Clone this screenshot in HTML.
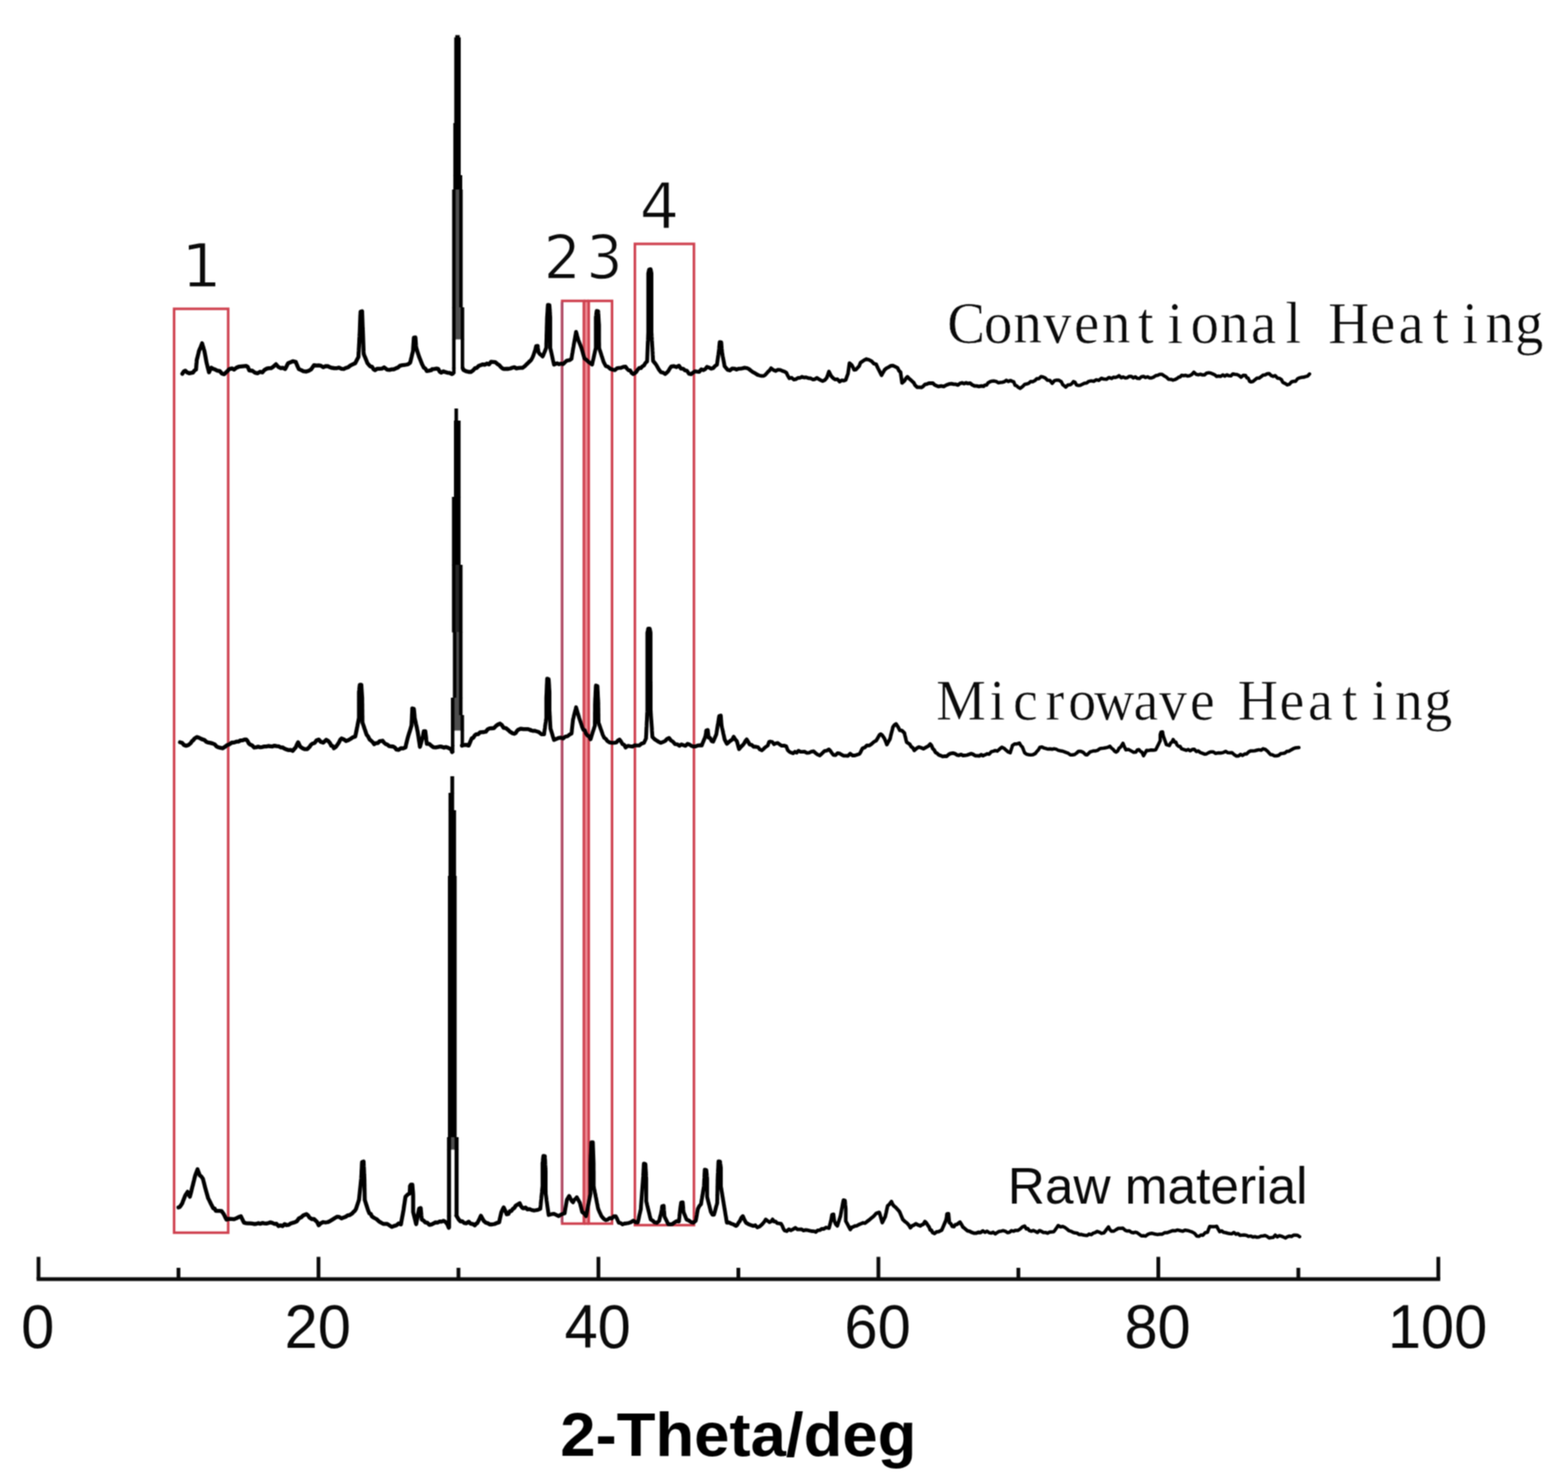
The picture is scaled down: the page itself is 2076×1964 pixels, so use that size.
<!DOCTYPE html>
<html lang="en">
<head>
<meta charset="utf-8">
<title>XRD patterns</title>
<style>
html,body{margin:0;padding:0;background:#fff;}
body{width:2076px;height:1964px;overflow:hidden;}
svg{display:block;}
.curve{fill:none;stroke:#000;stroke-linejoin:round;stroke-linecap:round;}
.box{fill:none;stroke:#cf4250;stroke-width:3.4;}
.axis line{stroke:#0a0a0a;stroke-width:5.0;stroke-linecap:butt;}
.ticklab text{font-family:"Liberation Sans",sans-serif;font-size:81px;fill:#0a0a0a;}
.serif{font-family:"Liberation Serif",serif;fill:#0a0a0a;stroke:#fff;stroke-width:0.6;}
.num{font-family:"DejaVu Sans Condensed","DejaVu Sans",sans-serif;fill:#0a0a0a;stroke:#fff;stroke-width:1.3;}
</style>
</head>
<body>
<svg width="2076" height="1964" viewBox="0 0 2076 1964">
<defs>
<filter id="soft" x="0" y="0" width="2076" height="1964" filterUnits="userSpaceOnUse" color-interpolation-filters="sRGB"><feConvolveMatrix order="3" kernelMatrix="1 2 1 2 4 2 1 2 1" divisor="16" edgeMode="duplicate" preserveAlpha="false"/></filter>
</defs>
<rect width="2076" height="1964" fill="#ffffff"/>
<g filter="url(#soft)">
<rect x="773.2" y="400" width="6.2" height="1219" fill="#ee8d95"/>
<g class="box">
<rect x="230.5" y="409" width="71.6" height="1223.5"/>
<rect x="744.3" y="398.5" width="28.7" height="1222"/>
<rect x="779.5" y="398.5" width="30.8" height="1222"/>
<rect x="840.6" y="323" width="78.2" height="1299.5"/>
<line x1="744.3" y1="400" x2="744.3" y2="1619" stroke="#b04c66"/>
<line x1="773" y1="398.5" x2="779.5" y2="398.5"/>
<line x1="773" y1="1620.5" x2="779.5" y2="1620.5"/>
</g>
<g id="curves">
<path class="curve" stroke-width="5.3" d="M241.4,495.0 L243.4,491.9 L245.4,490.9 L247.9,493.3 L250.4,494.3 L255.5,493.3 L257.5,490.7 L259.5,489.4 L259.8,485.9 L260.0,482.9 L260.3,479.8 L260.5,476.8 L261.3,473.8 L262.0,470.8 L262.8,467.7 L263.5,464.7 L264.5,462.2 L265.6,459.7 L266.6,457.2 L267.6,454.6 L268.3,457.2 L269.1,459.7 L269.8,462.2 L270.6,464.7 L271.1,467.4 L271.6,470.1 L272.1,472.8 L272.6,475.5 L273.1,478.2 L273.6,480.9 L274.4,483.9 L275.1,486.9 L275.9,489.9 L276.7,493.0 L278.2,489.9 L279.7,486.9 L282.2,488.5 L284.7,489.3 L287.7,490.8 L290.8,491.3 L293.8,494.8 L296.8,495.6 L300.9,491.7 L302.9,489.4 L304.9,488.3 L307.4,488.0 L309.9,489.5 L313.0,487.0 L316.0,485.7 L321.0,485.1 L326.1,484.6 L328.1,486.0 L330.1,490.6 L334.1,491.0 L337.7,493.7 L341.2,494.4 L344.2,492.4 L347.3,493.2 L350.3,489.8 L353.3,488.2 L356.0,487.6 L358.7,487.7 L361.4,486.0 L365.4,482.4 L368.4,485.9 L371.5,487.5 L374.5,487.1 L377.5,488.8 L378.9,486.2 L380.2,483.5 L381.5,480.9 L384.6,479.8 L387.6,478.4 L391.6,479.3 L393.0,482.9 L394.3,485.9 L395.7,488.9 L398.7,490.1 L401.7,491.6 L405.7,492.1 L408.8,491.1 L411.8,489.3 L413.8,486.4 L415.8,483.6 L418.9,484.2 L421.9,483.9 L424.9,484.4 L427.9,486.4 L431.0,485.0 L434.0,484.9 L436.7,486.3 L439.4,487.2 L442.1,487.5 L445.4,487.7 L448.8,486.8 L452.1,488.4 L455.2,488.6 L458.2,487.2 L461.2,486.2 L464.2,483.9 L467.3,482.4 L470.3,481.0 L471.7,478.2 L473.1,475.5 L474.6,472.8 L474.7,470.1 L474.8,467.4 L475.0,464.7 L475.1,462.0 L475.3,459.3 L475.4,456.7 L475.6,454.0 L475.7,451.3 L475.8,448.6 L476.0,445.9 L476.1,443.2 L476.3,440.5 L476.4,437.7 L476.5,435.0 L476.6,432.2 L476.7,429.4 L476.8,426.6 L476.9,423.9 L477.0,421.1 L477.1,418.3 L477.3,415.5 L477.4,412.8 L479.4,412.2 L479.5,415.5 L479.6,418.3 L479.7,421.1 L479.8,423.9 L479.9,426.6 L480.0,429.4 L480.1,432.2 L480.2,435.0 L480.4,437.7 L480.5,440.5 L480.6,443.3 L480.7,446.2 L480.8,449.0 L480.9,451.8 L481.0,454.6 L481.1,457.5 L481.2,460.3 L481.3,463.1 L481.4,465.9 L481.6,468.8 L482.5,471.2 L483.5,473.6 L484.5,476.0 L485.5,478.4 L486.4,480.9 L488.5,483.4 L490.5,485.4 L492.5,485.6 L494.5,489.0 L496.5,490.2 L499.5,488.3 L502.6,488.3 L505.6,488.2 L508.6,486.5 L512.7,489.6 L515.7,489.8 L518.7,489.2 L521.4,489.0 L524.1,487.8 L526.8,486.7 L529.5,484.4 L532.2,483.7 L534.8,483.4 L537.5,483.0 L540.2,482.5 L542.9,480.4 L543.6,478.2 L544.2,475.5 L544.9,472.8 L545.5,470.1 L546.2,467.4 L546.9,464.7 L547.0,461.8 L547.2,458.8 L547.4,455.9 L547.6,453.0 L547.8,450.0 L548.0,447.1 L550.0,446.9 L550.2,449.8 L550.4,452.5 L550.6,455.2 L550.8,458.0 L551.1,460.7 L552.1,463.7 L553.0,466.7 L554.0,469.8 L555.0,472.8 L556.0,475.3 L557.0,477.8 L558.0,480.4 L559.1,482.9 L561.1,486.9 L563.1,488.0 L565.1,491.3 L568.1,490.8 L571.2,490.2 L572.1,488.9 L575.1,488.6 L578.2,488.2 L580.2,488.6 L582.2,492.2 L584.2,493.5 L586.9,491.9 L589.6,492.7 L592.3,493.6 L595.3,493.8 L598.3,495.4 L599.6,494.7"/>
<path class="curve" stroke-width="5.3" d="M612.6,487.5 L613.5,489.9 L617.0,491.7 L620.5,492.5 L623.2,492.7 L625.9,490.9 L628.6,487.9 L631.3,487.1 L634.0,484.4 L636.7,483.5 L639.3,482.6 L642.0,483.1 L644.7,481.4 L647.4,482.6 L650.1,479.2 L652.8,479.4 L655.8,479.6 L658.8,482.3 L660.9,483.5 L662.9,485.8 L664.9,487.7 L667.6,488.7 L670.3,488.3 L673.0,488.5 L675.6,488.0 L678.3,487.0 L681.0,486.3 L683.7,487.9 L686.4,487.4 L689.1,487.2 L692.1,487.0 L695.1,484.7 L697.2,482.5 L699.2,480.6 L701.2,478.7"/>
<path class="curve" stroke-width="5.1" d="M701.2,478.7 L703.2,476.8 L705.2,473.1 L706.1,471.0 L707.0,468.3 L707.9,465.5 L708.8,462.7 L709.9,458.2 L711.9,458.1 L712.2,461.0 L712.6,463.9 L713.0,466.7 L714.8,468.9 L716.6,470.3 L718.3,472.1 L719.3,470.4 L720.3,467.9 L721.3,465.5 L722.2,463.1 L723.2,460.7 L723.3,458.0 L723.3,455.3 L723.4,452.6 L723.5,449.9 L723.6,447.2 L723.6,444.5 L723.7,441.9 L723.8,439.2 L723.9,436.5 L723.9,433.8 L724.0,431.1 L724.1,428.4 L724.2,425.7 L724.2,423.0 L724.3,420.3 L724.5,417.6 L724.7,414.8 L724.9,412.0 L725.0,409.2 L725.2,406.5 L725.4,403.7 L727.4,404.0 L727.6,406.5 L727.8,409.2 L728.0,412.0 L728.1,414.8 L728.3,417.6 L728.5,420.3 L728.5,423.0 L728.5,425.7 L728.5,428.4 L728.5,431.1 L728.5,433.8 L728.5,436.5 L728.5,439.2 L728.5,441.9 L728.5,444.5 L728.5,447.2 L728.5,449.9 L728.5,452.6 L728.5,455.3 L728.5,458.0 L728.5,460.7 L729.1,463.5 L729.8,466.2 L730.4,469.0 L731.0,471.8 L731.6,474.6 L732.2,477.3 L732.9,480.1 L733.5,482.9 L737.5,481.1 L740.2,482.4 L742.9,481.5 L745.6,482.2 L747.6,480.2 L749.6,478.2 L751.6,477.3 L754.2,476.9 L756.7,475.1 L757.1,472.2 L757.5,469.6 L758.0,467.0 L758.4,464.4 L758.8,461.8 L759.3,459.2 L759.7,456.7 L760.2,453.8 L760.7,450.9 L761.2,448.1 L761.7,445.2 L762.2,442.4 L762.7,439.5 L763.5,442.3 L764.2,445.1 L765.0,447.8 L765.7,450.6 L766.8,453.1 L767.8,455.6 L768.8,458.2 L769.8,460.7 L770.6,463.5 L771.4,466.3 L772.2,469.2 L773.0,472.0 L773.8,474.8 L776.3,476.4 L778.9,479.1 L781.4,480.8 L783.9,482.9 L784.5,480.1 L785.1,477.3 L785.8,474.6 L786.4,471.8 L787.0,469.0 L787.6,466.2 L788.2,463.5 L788.9,460.7 L788.9,458.0 L788.9,455.3 L788.9,452.6 L788.9,449.9 L788.9,447.2 L788.9,444.5 L788.9,441.9 L788.9,439.2 L788.9,436.5 L788.9,433.8 L788.9,431.1 L788.9,428.4 L788.9,425.7 L788.9,423.0 L788.9,420.3 L789.3,417.5 L789.6,414.6 L790.0,411.8 L792.0,412.3 L792.1,414.4 L792.3,417.1 L792.4,419.8 L792.6,422.4 L792.7,425.1 L792.9,427.8 L793.1,430.4 L793.1,433.2 L793.1,435.9 L793.1,438.7 L793.1,441.4 L793.1,444.2 L793.1,446.9 L793.1,449.7 L793.1,452.4 L793.2,455.2 L793.2,457.9 L793.2,460.7 L794.0,463.3 L794.9,465.9 L795.7,468.5 L796.5,471.1 L797.4,473.7 L798.2,476.2 L799.0,478.8 L800.5,481.9 L802.1,484.9 L805.1,485.8 L808.1,488.5 L811.1,489.5 L814.2,490.2 L816.8,487.8 L819.5,487.3 L822.2,487.2 L825.3,485.9 L828.3,485.6 L830.3,488.5 L832.3,490.4 L834.3,490.5 L836.3,493.9 L838.4,495.4 L840.4,494.2 L842.4,492.5 L844.4,489.4 L846.4,487.3 L848.5,487.5 L850.5,485.2 L852.5,484.1 L854.5,480.8 L856.7,478.6 L856.9,475.3 L857.0,472.6 L857.1,469.9 L857.2,467.1 L857.3,464.4 L857.4,461.7 L857.5,459.0 L857.6,456.3 L857.7,453.6 L857.9,450.9 L858.0,448.1 L858.1,445.4 L858.2,442.7 L858.3,440.0 L858.3,437.4 L858.3,434.8 L858.3,432.2 L858.3,429.6 L858.3,427.0 L858.3,424.4 L858.3,421.8 L858.3,419.2 L858.3,416.6 L858.3,414.0 L858.3,411.4 L858.3,408.8 L858.3,406.2 L858.3,403.6 L858.3,401.0 L858.3,398.4 L858.3,395.8 L858.3,393.2 L858.3,390.6 L858.3,388.0 L858.3,385.4 L858.3,382.8 L858.3,380.2 L858.3,377.6 L858.3,375.0 L858.3,372.4 L858.3,369.8 L858.3,367.2 L858.3,364.6 L858.3,362.0 L859.4,357.0 L861.4,356.5 L862.5,362.0 L862.5,364.6 L862.5,367.2 L862.5,369.8 L862.5,372.4 L862.5,375.0 L862.5,377.6 L862.5,380.2 L862.5,382.8 L862.5,385.4 L862.5,388.0 L862.5,390.6 L862.5,393.2 L862.5,395.8 L862.5,398.4 L862.5,401.0 L862.5,403.6 L862.5,406.2 L862.5,408.8 L862.5,411.4 L862.5,414.0 L862.5,416.6 L862.5,419.2 L862.5,421.8 L862.5,424.4 L862.5,427.0 L862.5,429.6 L862.5,432.2 L862.5,434.8 L862.5,437.4 L862.5,440.0 L862.7,442.7 L862.8,445.4 L863.0,448.1 L863.1,450.9 L863.3,453.6 L863.4,456.3 L863.6,459.0 L863.8,461.7 L863.9,464.4 L864.1,467.1 L864.2,469.9 L864.4,472.6 L864.5,475.3 L864.7,478.0 L867.6,481.5 L869.3,483.9 L871.0,486.9 L872.7,489.9 L875.3,493.1 L878.0,493.5 L880.7,495.3 L882.7,493.6 L884.8,491.5 L886.8,488.0 L888.8,485.2 L892.2,484.9 L895.5,486.2 L898.9,484.3 L901.6,488.2 L904.3,488.2 L906.9,490.5 L909.6,491.1 L912.3,495.1 L915.0,495.6 L917.7,493.4 L920.4,491.7 L923.1,492.2 L925.8,492.4 L928.5,489.1 L931.2,490.1 L933.6,489.0 L936.1,485.8 L938.8,486.8 L941.5,488.2 L944.2,487.5 L946.7,484.7 L949.2,483.1 L949.6,480.3 L950.0,477.7 L950.3,475.1 L950.7,472.5 L951.1,469.9 L951.4,467.3 L951.8,464.7 L952.1,461.8 L952.3,458.9 L952.6,456.0 L952.9,453.1 L954.9,453.2 L955.1,455.8 L955.3,458.6 L955.5,461.3 L955.8,464.0 L956.0,466.7 L956.5,469.3 L956.9,471.9 L957.4,474.5 L957.9,477.1 L958.4,479.7 L958.9,482.3 L959.3,484.9 L961.4,487.5 L963.4,489.7 L966.4,490.6 L969.4,488.0 L972.4,488.2 L975.1,489.4 L977.8,488.3 L980.5,488.3 L983.2,487.8 L985.9,487.0 L988.6,487.4 L991.3,488.5 L994.0,490.8 L996.7,492.8 L999.7,494.3 L1002.7,496.2"/>
<path class="curve" stroke-width="4.8" d="M1002.7,496.2 L1005.4,497.2 L1008.1,497.9 L1010.8,497.8 L1012.8,496.8 L1014.8,494.8 L1016.8,492.4 L1018.8,490.6 L1020.9,487.6 L1023.9,490.0 L1026.9,491.3 L1029.9,489.7 L1033.0,489.8 L1035.6,491.1 L1038.3,492.0 L1041.0,493.3 L1042.4,496.3 L1043.7,498.7 L1045.1,501.0 L1048.1,500.2 L1051.1,502.8 L1053.8,502.1 L1056.5,500.5 L1059.2,500.3 L1061.9,499.0 L1064.6,500.0 L1067.3,499.7 L1070.3,500.8 L1073.3,501.0 L1076.0,502.5 L1078.7,502.3 L1081.4,500.4 L1084.1,502.1 L1086.8,503.6 L1089.4,504.7 L1092.0,503.4 L1094.5,500.5 L1095.5,498.0 L1096.5,495.0 L1097.5,492.0 L1099.0,495.0 L1100.5,498.0 L1103.1,500.8 L1105.6,502.6 L1108.6,502.2 L1111.6,505.4 L1114.3,503.7 L1117.0,504.1 L1119.7,503.3 L1120.7,500.4 L1121.7,497.7 L1122.7,495.0 L1123.1,492.2 L1123.5,489.3 L1123.9,486.5 L1124.3,483.7 L1124.7,480.9 L1127.8,483.6 L1129.3,486.4 L1130.8,489.9 L1133.3,489.3 L1135.8,486.7 L1137.5,484.9 L1139.2,480.5 L1140.9,479.2 L1143.9,477.1 L1146.9,475.5 L1150.5,476.5 L1154.0,478.4 L1157.0,481.7 L1160.0,482.3 L1161.4,485.6 L1162.7,488.3 L1164.1,490.9 L1165.6,494.0 L1167.1,497.0 L1168.4,494.6 L1169.8,492.3 L1171.1,489.9 L1173.7,487.6 L1176.2,486.4 L1179.2,484.4 L1182.2,484.2 L1185.3,485.7 L1188.3,487.2 L1190.3,491.1 L1192.3,492.9 L1192.7,495.8 L1193.1,498.6 L1193.5,501.4 L1193.9,504.3 L1194.3,507.1 L1197.4,504.4 L1199.4,501.1 L1201.4,499.0 L1203.9,501.7 L1206.4,503.7 L1208.1,505.4 L1209.8,506.9 L1211.5,510.2 L1214.5,512.9 L1217.5,512.9 L1219.9,513.1 L1222.2,511.7 L1224.6,509.2 L1227.3,508.7 L1230.0,507.3 L1232.7,507.5 L1235.2,507.5 L1237.7,509.9 L1240.2,511.0 L1242.7,511.9 L1246.1,511.1 L1249.5,511.9 L1252.8,510.0 L1256.2,508.7 L1259.6,508.1 L1262.9,508.8 L1265.6,508.9 L1268.3,509.9 L1271.0,507.8 L1273.7,507.0 L1276.4,508.1 L1279.1,506.9 L1281.7,507.9 L1284.4,507.4 L1287.1,509.6 L1290.1,511.0 L1293.1,511.2 L1296.1,511.8 L1299.2,511.1 L1302.2,511.4"/>
<path class="curve" stroke-width="4.5" d="M1302.2,511.4 L1304.2,509.9 L1306.2,510.0 L1308.2,507.0 L1310.9,505.5 L1313.6,504.7 L1316.3,504.6 L1319.0,505.2 L1321.7,507.0 L1324.4,506.6 L1327.1,506.2 L1329.8,505.5 L1332.4,503.6 L1335.1,505.2 L1337.8,503.9 L1340.5,505.1 L1342.2,505.7 L1343.9,510.3 L1345.6,510.6 L1348.1,512.9 L1350.6,514.4 L1352.6,512.9 L1354.6,511.3 L1356.7,508.9 L1359.3,508.6 L1362.0,507.7 L1364.7,505.2 L1367.4,505.5 L1370.1,504.1 L1372.8,501.4 L1375.5,501.5 L1378.2,498.8 L1380.9,499.3 L1383.9,500.6 L1386.9,503.6 L1389.9,503.7 L1393.0,507.7 L1396.0,504.2 L1399.0,503.4 L1402.0,503.6 L1405.1,505.5 L1407.1,509.5 L1409.1,511.1 L1411.1,512.7 L1414.1,509.7 L1417.2,509.4 L1419.2,508.0 L1421.2,505.4 L1423.2,506.1 L1425.2,509.8 L1427.3,510.4 L1430.3,510.2 L1433.3,508.8 L1436.0,507.4 L1438.7,507.2 L1441.4,505.1 L1444.7,504.4 L1448.1,505.0 L1451.5,502.9 L1454.8,503.8 L1458.2,501.0 L1461.5,502.1 L1464.9,502.3 L1468.3,499.9 L1471.6,501.3 L1474.2,499.6 L1476.7,499.9 L1479.2,499.1 L1481.7,497.5 L1484.4,500.3 L1487.1,499.2 L1489.8,500.5 L1492.5,500.2 L1495.2,498.4 L1497.9,498.4 L1500.5,500.5 L1503.2,499.1 L1505.9,501.1 L1508.6,501.2 L1511.3,498.9 L1514.0,498.5 L1516.7,500.0 L1519.4,499.0 L1522.1,500.4 L1524.7,500.5 L1527.4,499.4 L1530.1,497.5 L1532.8,497.0 L1535.5,495.7 L1538.2,495.7 L1541.2,497.7 L1544.2,499.4 L1547.3,502.3 L1550.3,502.4 L1553.0,503.4 L1555.7,502.6 L1558.4,501.3 L1560.4,499.6 L1562.4,499.3 L1564.4,497.0 L1567.1,497.5 L1569.8,497.0 L1572.5,498.1 L1575.2,497.5 L1577.9,496.1 L1580.6,493.0 L1583.6,495.7 L1586.6,496.4 L1589.3,495.6 L1592.0,496.5 L1594.7,496.5 L1597.4,494.2 L1600.1,493.6 L1602.7,494.0 L1605.4,495.1 L1608.1,496.3 L1610.8,498.5 L1613.5,498.1 L1616.2,498.5 L1618.9,496.5 L1621.6,498.2 L1624.3,496.4 L1626.9,497.6 L1629.6,497.8 L1632.3,495.2 L1635.0,495.7 L1637.7,496.0 L1640.4,497.2 L1643.1,499.6 L1646.1,497.0 L1649.1,497.3 L1650.9,500.5 L1652.6,500.8 L1654.4,504.9 L1656.1,505.8 L1658.8,505.2 L1661.5,503.0 L1664.2,500.8 L1666.9,500.8 L1669.6,498.9 L1672.3,496.7 L1675.0,496.5 L1677.7,495.0 L1680.3,494.7 L1683.0,497.3 L1685.7,498.4 L1688.4,497.5 L1691.4,500.8 L1694.5,501.3 L1696.5,502.6 L1698.5,506.5 L1701.5,507.9 L1704.5,509.7 L1707.2,508.9 L1709.9,505.7 L1712.6,505.0 L1715.3,505.0 L1718.0,501.5 L1720.7,500.4 L1723.4,499.8 L1726.1,499.6 L1728.8,498.6 L1731.3,498.1 L1733.8,495.3"/>
<path class="curve" stroke-width="5.3" d="M238.3,983.0 L241.0,983.7 L243.7,986.8 L246.4,987.6 L249.4,986.7 L252.4,984.2 L254.1,981.7 L255.8,980.4 L257.5,978.1 L260.5,976.1 L263.5,977.0 L267.1,978.9 L270.6,980.0 L273.3,982.5 L276.0,983.4 L278.7,983.9 L281.4,984.6 L284.0,985.6 L286.7,988.6 L289.4,989.7 L292.1,990.4 L294.8,991.0 L297.8,989.1 L300.9,986.7 L303.9,985.7 L306.9,983.5 L309.9,983.4 L313.0,982.2 L315.6,982.2 L318.3,980.6 L321.0,980.4 L323.6,979.5 L326.1,979.3 L327.8,981.4 L329.4,984.5 L331.1,986.0 L333.8,987.1 L336.5,990.0 L339.2,989.6 L341.9,988.9 L344.6,989.7 L347.3,989.3 L349.9,988.6 L352.6,988.6 L355.3,988.0 L358.0,988.3 L360.7,988.6 L363.4,987.6 L366.1,988.2 L368.8,988.3 L371.5,989.8 L374.1,989.9 L376.8,991.5 L379.5,992.7 L382.2,993.3 L384.9,993.1 L387.6,994.5 L389.6,991.9 L391.6,989.7 L393.1,986.1 L394.7,983.0 L396.2,986.1 L397.7,989.1 L400.7,991.0 L403.7,992.2 L406.8,992.0 L409.8,989.1 L411.8,986.3 L413.8,984.7 L416.5,984.0 L419.2,980.4 L421.9,979.4 L424.9,982.6 L427.9,983.6 L432.0,979.8 L434.5,981.3 L437.0,984.3 L438.7,987.7 L440.4,987.9 L442.1,991.0 L444.6,989.1 L447.1,985.7 L448.8,983.1 L450.5,979.6 L452.1,978.0 L455.2,979.2 L458.2,981.4 L461.2,980.2 L464.2,978.5 L467.3,976.4 L470.3,975.5 L470.8,973.2 L471.4,970.4 L472.0,967.6 L472.5,964.8 L473.1,962.0 L473.6,959.2 L474.2,956.4 L474.7,953.6 L475.3,950.8 L475.3,948.1 L475.3,945.5 L475.3,942.9 L475.3,940.2 L475.3,937.6 L475.3,934.9 L475.3,932.3 L475.3,929.7 L475.3,927.0 L475.3,924.4 L475.3,921.8 L475.3,919.1 L475.3,916.5 L475.7,913.3 L476.0,910.1 L476.4,906.9 L478.4,906.8 L478.5,909.8 L478.7,912.8 L478.9,915.7 L479.1,918.7 L479.3,921.6 L479.5,924.5 L479.5,927.2 L479.5,929.9 L479.6,932.6 L479.6,935.3 L479.6,938.0 L479.7,940.7 L479.7,943.4 L479.7,946.1 L479.8,948.8 L479.8,951.4 L479.8,954.1 L479.9,956.8 L480.8,959.5 L481.7,962.2 L482.6,964.9 L483.6,967.6 L484.5,970.3 L485.4,973.0 L487.4,975.4 L489.5,979.4 L491.5,981.1 L493.5,982.9 L495.5,985.6 L497.9,984.1 L500.2,984.1 L502.6,981.6 L506.6,981.0 L508.6,983.6 L510.6,985.4 L512.7,986.0 L515.3,988.1 L518.0,988.5 L520.7,988.7 L522.7,989.9 L524.8,992.6 L527.8,993.0 L530.8,990.9 L533.8,991.1 L536.9,989.8 L537.6,986.1 L538.4,983.0 L539.1,980.0 L539.9,977.0 L540.7,974.3 L541.5,971.6 L542.4,968.9 L543.2,966.2 L544.0,963.5 L544.8,960.9 L545.0,958.0 L545.1,955.2 L545.3,952.3 L545.4,949.5 L545.5,946.7 L545.7,943.8 L545.8,941.0 L545.9,938.2 L547.9,938.8 L548.2,941.3 L548.5,944.5 L548.8,947.6 L549.0,950.8 L549.6,953.4 L550.2,956.0 L550.7,958.6 L551.3,961.1 L551.9,963.7 L552.4,966.3 L553.0,968.9 L553.4,971.8 L553.9,974.7 L554.3,977.6 L554.7,980.5 L555.2,983.3 L555.6,986.2 L556.0,989.1 L556.8,986.3 L557.6,983.4 L558.4,980.6 L559.2,977.8 L560.0,975.0 L560.5,971.7 L561.1,968.4 L563.1,968.4 L563.4,971.2 L563.8,974.0 L564.1,976.7 L564.4,979.5 L564.8,982.3 L565.1,985.1 L568.1,985.1 L571.2,987.8 L574.1,989.7 L576.8,989.9 L579.5,989.4 L582.2,988.7 L584.9,989.0 L587.6,990.1 L590.3,989.3 L593.8,990.5 L597.3,992.6 L598.6,996.0"/>
<path class="curve" stroke-width="5.3" d="M611.6,987.5 L613.5,986.8 L617.0,986.4 L620.5,987.4 L621.9,984.1 L623.2,981.0 L624.5,978.0 L626.6,977.0 L628.6,973.8 L630.6,972.3 L633.1,972.3 L635.6,969.8 L638.2,969.6 L640.7,969.5 L643.2,969.0 L645.7,965.8 L648.3,964.6 L650.8,964.5 L653.8,964.4 L656.8,961.2 L659.3,959.5 L661.9,958.3 L664.4,960.2 L666.9,963.9 L669.9,964.4 L673.0,966.8 L675.6,969.3 L678.3,970.9 L681.0,971.8 L682.7,970.8 L684.4,968.1 L686.1,966.4 L689.6,965.1 L693.1,965.7 L696.2,965.6 L699.2,965.6 L702.2,966.8"/>
<path class="curve" stroke-width="5.1" d="M702.2,966.8 L705.2,967.9 L707.9,967.8 L710.6,968.6 L713.3,969.5 L716.8,972.4 L720.4,972.5 L720.7,969.3 L721.1,966.7 L721.5,964.0 L721.8,961.4 L722.2,958.7 L722.6,956.1 L722.9,953.4 L723.3,950.8 L723.3,948.1 L723.3,945.5 L723.3,942.9 L723.3,940.3 L723.3,937.7 L723.3,935.0 L723.3,932.4 L723.3,929.8 L723.3,927.2 L723.3,924.5 L723.4,921.7 L723.6,918.8 L723.7,916.0 L723.8,913.1 L723.9,910.3 L724.0,907.4 L724.2,904.5 L724.3,901.7 L724.4,898.8 L726.4,899.4 L726.6,901.8 L726.8,904.7 L727.0,907.7 L727.1,910.6 L727.3,913.5 L727.5,916.5 L727.5,919.2 L727.5,921.9 L727.5,924.5 L727.5,927.2 L727.5,929.9 L727.5,932.6 L727.5,935.3 L727.5,938.0 L727.5,940.7 L727.7,943.4 L727.8,946.1 L728.0,948.8 L728.1,951.4 L728.2,954.1 L728.4,956.8 L728.5,959.5 L728.7,962.2 L728.8,964.9 L729.6,967.4 L730.4,969.9 L731.2,972.5 L731.9,975.0 L732.7,977.5 L733.5,980.0 L736.5,978.6 L739.5,977.3 L742.6,976.9 L745.6,978.0 L748.6,975.4 L751.6,974.9 L754.2,972.7 L756.7,971.4 L757.0,969.2 L757.2,966.5 L757.5,963.7 L757.8,961.0 L758.1,958.3 L758.4,955.5 L758.7,952.8 L759.4,950.1 L760.0,947.4 L760.7,944.7 L761.4,942.0 L762.1,939.3 L762.7,936.7 L763.5,939.5 L764.3,942.3 L765.1,945.1 L766.0,947.9 L766.8,950.8 L767.8,953.8 L768.8,956.8 L769.8,959.8 L770.8,962.9 L772.5,966.8 L774.2,967.0 L775.8,971.4 L777.9,974.2 L779.9,975.1 L781.9,979.0 L782.7,976.4 L783.5,973.8 L784.3,971.2 L785.1,968.6 L786.0,966.0 L786.8,963.5 L787.6,960.9 L787.6,958.1 L787.6,955.4 L787.7,952.6 L787.7,949.9 L787.7,947.1 L787.7,944.4 L787.8,941.6 L787.8,938.9 L787.8,936.1 L787.8,933.4 L787.9,930.6 L788.0,927.8 L788.1,924.9 L788.3,922.1 L788.4,919.3 L788.5,916.4 L788.7,913.6 L788.8,910.7 L789.0,907.9 L791.0,908.6 L791.1,910.7 L791.2,913.6 L791.4,916.4 L791.5,919.3 L791.6,922.1 L791.8,924.9 L791.9,927.8 L792.1,930.6 L792.1,933.2 L792.1,935.8 L792.2,938.5 L792.2,941.1 L792.2,943.7 L792.3,946.3 L792.3,949.0 L792.3,951.6 L792.4,954.2 L792.4,956.8 L793.3,959.5 L794.3,962.2 L795.2,964.9 L796.2,967.6 L797.1,970.3 L798.0,973.0 L800.0,977.1 L802.1,978.5 L804.1,981.4 L807.1,983.2 L810.1,983.7 L813.2,983.7 L816.2,983.2 L818.2,980.7 L820.2,979.5 L822.2,981.9 L824.2,985.4 L826.3,986.3 L828.3,990.0 L831.3,987.7 L834.3,988.3 L837.4,988.7 L840.4,987.1 L843.4,987.3 L846.4,987.3 L849.5,984.8 L852.5,983.9 L853.9,981.0 L855.3,978.0 L855.4,975.3 L855.6,972.6 L855.7,969.9 L855.8,967.1 L855.9,964.4 L856.1,961.7 L856.2,959.0 L856.3,956.3 L856.5,953.6 L856.6,950.9 L856.7,948.1 L856.8,945.4 L857.0,942.7 L857.1,940.0 L857.1,937.4 L857.1,934.8 L857.1,932.2 L857.1,929.5 L857.1,926.9 L857.1,924.3 L857.1,921.7 L857.1,919.1 L857.1,916.5 L857.1,913.8 L857.1,911.2 L857.1,908.6 L857.1,906.0 L857.1,903.4 L857.1,900.8 L857.1,898.2 L857.1,895.5 L857.1,892.9 L857.1,890.3 L857.1,887.7 L857.1,885.1 L857.1,882.5 L857.1,879.8 L857.1,877.2 L857.1,874.6 L857.1,872.0 L857.1,869.4 L857.1,866.8 L857.1,864.2 L857.1,861.5 L857.1,858.9 L857.1,856.3 L857.1,853.7 L857.1,851.1 L857.1,848.5 L857.1,845.8 L857.1,843.2 L857.1,840.6 L857.1,838.0 L857.7,835.2 L858.2,832.5 L860.2,832.6 L860.8,835.2 L861.3,838.0 L861.3,840.6 L861.3,843.2 L861.3,845.8 L861.3,848.5 L861.3,851.1 L861.3,853.7 L861.3,856.3 L861.3,858.9 L861.3,861.5 L861.3,864.2 L861.3,866.8 L861.3,869.4 L861.3,872.0 L861.3,874.6 L861.3,877.2 L861.3,879.8 L861.3,882.5 L861.3,885.1 L861.3,887.7 L861.3,890.3 L861.3,892.9 L861.3,895.5 L861.3,898.2 L861.3,900.8 L861.3,903.4 L861.4,906.0 L861.4,908.6 L861.4,911.2 L861.4,913.8 L861.4,916.5 L861.4,919.1 L861.4,921.7 L861.4,924.3 L861.4,926.9 L861.4,929.5 L861.4,932.2 L861.4,934.8 L861.4,937.4 L861.4,940.0 L861.6,942.8 L861.7,945.5 L861.9,948.3 L862.1,951.1 L862.3,953.8 L862.5,956.6 L862.7,959.4 L862.9,962.2 L863.1,964.9 L863.2,967.7 L863.4,970.5 L863.6,973.2 L863.8,976.0 L866.7,979.0 L869.6,980.8 L872.2,982.5 L874.7,983.8 L877.7,982.7 L880.7,981.3 L883.2,978.5 L885.8,977.3 L888.3,980.6 L890.8,982.1 L893.8,985.5 L896.9,985.8 L899.6,987.7 L902.2,985.8 L904.9,986.9 L907.6,987.7 L910.3,985.0 L913.0,986.2 L915.7,987.9 L918.4,988.7 L921.1,988.4 L923.8,987.3 L926.4,986.9 L929.1,987.3 L930.1,984.7 L931.1,982.2 L932.1,979.8 L933.1,977.4 L934.0,975.0 L934.6,971.2 L935.1,967.4 L937.1,966.8 L937.5,970.6 L937.9,973.8 L938.2,977.0 L940.2,977.3 L942.2,981.5 L944.2,982.2 L945.6,979.0 L946.9,976.0 L948.2,973.0 L948.7,970.4 L949.1,967.8 L949.5,965.2 L949.9,962.6 L950.3,960.0 L950.8,957.4 L951.2,954.8 L951.7,951.5 L952.3,948.2 L954.3,947.7 L954.6,951.4 L954.8,954.6 L955.1,957.7 L955.4,960.9 L955.9,963.5 L956.5,966.0 L957.1,968.6 L957.6,971.2 L958.2,973.8 L958.8,976.4 L959.3,979.0 L960.8,982.0 L962.4,985.1 L964.9,982.8 L967.4,980.7 L969.4,979.6 L971.4,975.7 L973.5,979.2 L975.5,981.4 L976.2,983.8 L977.0,986.6 L977.7,989.3 L978.5,992.1 L981.0,989.1 L983.5,986.7 L985.2,984.5 L986.9,981.4 L988.6,979.2 L989.9,981.4 L991.3,983.7 L992.6,986.1 L995.3,986.6 L998.0,989.0 L1000.7,989.0"/>
<path class="curve" stroke-width="4.8" d="M1000.7,989.0 L1003.4,989.4 L1006.1,992.6 L1008.8,993.7 L1010.8,992.0 L1012.8,989.9 L1014.8,988.6 L1016.5,987.4 L1018.2,982.6 L1019.8,982.0 L1022.4,982.6 L1024.9,985.8 L1027.4,984.3 L1029.9,984.0 L1032.5,986.1 L1035.0,987.6 L1038.0,987.4 L1041.0,988.4 L1043.0,993.6 L1045.1,995.6 L1047.6,996.8 L1050.1,997.6 L1052.5,995.5 L1054.8,996.8 L1057.2,994.2 L1059.9,995.6 L1062.5,995.7 L1065.2,995.5 L1068.3,997.1 L1071.3,996.8 L1074.3,995.4 L1077.3,995.0 L1080.0,997.6 L1082.7,999.4 L1085.4,1000.6 L1087.4,998.7 L1089.4,996.8 L1091.5,994.7 L1094.5,994.1 L1097.5,992.4 L1099.5,994.5 L1101.5,997.5 L1103.6,999.9 L1106.2,1000.2 L1108.9,997.3 L1111.6,997.9 L1114.3,999.5 L1117.0,1000.8 L1119.7,1000.9 L1122.7,1001.0 L1125.7,998.1 L1128.8,1000.5 L1131.8,1000.5 L1134.8,999.5 L1137.9,998.5 L1139.2,996.5 L1140.5,993.8 L1141.9,991.1 L1144.9,990.0 L1147.9,987.1 L1151.0,987.4 L1154.0,985.2 L1157.0,982.5 L1160.0,980.8 L1161.6,978.4 L1163.1,975.6 L1164.6,973.0 L1166.1,972.2 L1167.8,973.4 L1169.5,975.8 L1171.1,978.3 L1172.1,980.7 L1173.2,983.4 L1174.2,986.1 L1175.5,983.7 L1176.8,981.4 L1178.2,979.0 L1178.9,976.3 L1179.5,973.6 L1180.2,970.9 L1180.9,968.3 L1181.6,965.6 L1182.2,962.9 L1184.2,960.2 L1186.3,958.7 L1187.9,961.0 L1189.6,963.7 L1191.3,967.2 L1194.3,967.7 L1197.4,970.8 L1198.1,974.0 L1198.9,977.0 L1199.6,980.0 L1200.4,983.0 L1204.4,985.5 L1206.4,988.9 L1208.5,990.2 L1210.5,993.8 L1213.5,991.1 L1216.5,989.3 L1219.5,990.2 L1222.6,991.6 L1226.6,989.4 L1229.1,988.0 L1231.6,985.4 L1233.3,987.4 L1235.0,991.5 L1236.7,993.0 L1238.7,996.6 L1240.7,997.6 L1242.7,999.7 L1245.4,1000.6 L1248.1,1001.9 L1250.8,1001.4 L1253.5,1001.5 L1256.2,999.0 L1258.9,997.8 L1261.6,997.3 L1264.3,998.1 L1266.9,999.8 L1269.6,1000.3 L1272.3,999.2 L1275.0,1000.5 L1277.7,1000.4 L1280.4,1000.0 L1283.1,999.0 L1285.8,998.1 L1288.5,999.1 L1291.2,1000.8 L1293.8,1000.9 L1296.4,1001.1 L1299.0,999.5 L1301.6,1000.7"/>
<path class="curve" stroke-width="4.5" d="M1301.6,1000.7 L1304.2,999.7 L1306.9,998.3 L1309.6,998.9 L1312.3,995.7 L1315.0,994.9 L1317.7,994.0 L1320.3,994.7 L1322.4,993.0 L1324.4,991.1 L1326.4,989.6 L1329.4,991.0 L1332.4,993.8 L1335.0,996.0 L1337.5,996.9 L1338.2,994.6 L1339.0,992.1 L1339.8,989.6 L1340.5,987.1 L1343.5,985.3 L1346.6,985.2 L1349.6,984.0 L1351.6,987.4 L1353.6,989.3 L1354.6,991.8 L1355.6,994.5 L1356.7,997.2 L1359.3,998.9 L1362.0,999.5 L1364.7,999.8 L1367.7,999.4 L1370.8,997.9 L1372.8,995.2 L1374.8,993.1 L1376.8,989.7 L1379.5,989.3 L1382.2,990.6 L1384.9,991.3 L1387.6,992.1 L1390.3,991.7 L1393.0,992.2 L1395.6,991.6 L1398.3,992.1 L1401.0,993.6 L1403.7,994.3 L1406.4,994.7 L1409.1,995.6 L1411.8,996.7 L1414.5,997.7 L1417.2,999.7 L1419.9,999.8 L1422.5,999.3 L1425.2,997.5 L1427.9,995.0 L1430.6,995.0 L1433.3,995.9 L1435.3,997.4 L1437.3,999.6 L1439.4,999.7 L1441.4,997.7 L1443.4,995.6 L1445.4,995.2 L1448.1,994.4 L1450.8,994.4 L1453.5,993.6 L1456.2,991.4 L1458.9,991.1 L1461.5,990.7 L1464.2,990.2 L1466.9,989.6 L1469.6,988.4 L1471.6,990.7 L1473.6,992.2 L1475.7,994.8 L1477.7,996.0 L1479.7,994.7 L1481.7,990.8 L1483.7,989.4 L1486.8,984.3 L1488.1,987.8 L1489.4,990.4 L1490.8,993.1 L1494.3,992.6 L1497.9,994.6 L1500.9,996.2 L1503.9,995.9 L1505.9,993.2 L1507.9,992.8 L1510.0,995.1 L1512.0,996.3 L1514.0,1000.9 L1516.0,997.4 L1518.0,993.8 L1521.0,993.9 L1524.1,993.2 L1527.1,993.6 L1530.1,993.0 L1531.3,990.7 L1532.5,988.3 L1533.7,985.9 L1534.9,983.4 L1536.1,981.0 L1536.1,978.3 L1536.1,975.6 L1536.1,973.0 L1537.2,969.4 L1539.2,969.2 L1539.7,972.2 L1540.3,975.0 L1541.3,977.8 L1542.3,980.5 L1543.3,983.3 L1544.2,986.1 L1548.3,987.4 L1550.0,983.8 L1551.6,982.7 L1553.3,979.4 L1555.0,982.7 L1556.7,982.7 L1558.4,986.6 L1560.4,988.4 L1562.4,988.5 L1564.4,991.7 L1567.4,992.6 L1570.5,993.7 L1573.2,992.6 L1575.8,994.3 L1578.5,992.6 L1581.2,992.3 L1583.9,995.3 L1586.6,994.5 L1589.3,996.7 L1592.0,997.6 L1594.7,998.7 L1597.4,998.4 L1600.1,996.9 L1602.7,995.7 L1606.1,995.7 L1609.5,997.8 L1612.8,997.1 L1616.2,997.2 L1619.6,996.6 L1622.9,995.0 L1625.6,996.8 L1628.3,997.1 L1631.0,996.7 L1634.0,999.4 L1637.0,1001.2 L1639.7,1001.2 L1642.4,999.1 L1645.1,1000.5 L1647.9,998.6 L1650.6,998.4 L1653.4,995.6 L1656.1,994.4 L1658.8,994.4 L1661.5,994.2 L1664.2,993.5 L1666.9,992.9 L1669.6,993.6 L1672.3,991.6 L1675.3,992.5 L1678.3,995.0 L1680.3,997.3 L1682.4,999.3 L1684.4,999.5 L1687.4,1001.0 L1690.4,1001.0 L1693.1,1000.3 L1695.8,998.0 L1698.5,997.7 L1701.2,997.2 L1703.9,995.0 L1706.6,994.9 L1709.3,993.2 L1711.9,991.7 L1714.6,990.6 L1719.7,990.1"/>
<path class="curve" stroke-width="5.3" d="M236.3,1599.0 L238.0,1598.4 L239.7,1596.1 L241.4,1593.3 L242.4,1590.4 L243.4,1587.9 L244.4,1585.4 L245.4,1582.9 L248.4,1578.4 L249.9,1581.9 L251.4,1584.9 L252.1,1582.2 L252.8,1579.5 L253.5,1576.8 L254.1,1574.1 L254.8,1571.4 L255.5,1568.8 L256.2,1565.7 L257.0,1562.7 L257.7,1559.7 L258.5,1556.7 L259.5,1554.0 L260.5,1551.3 L261.5,1548.6 L262.5,1551.3 L263.5,1554.0 L264.5,1556.7 L266.6,1558.2 L268.6,1561.0 L269.3,1563.7 L270.1,1566.7 L270.9,1569.8 L271.6,1572.8 L272.4,1575.6 L273.2,1578.4 L274.0,1581.3 L274.8,1584.1 L275.6,1586.9 L276.9,1589.4 L278.2,1592.0 L279.4,1594.5 L280.7,1597.0 L282.4,1600.3 L284.0,1600.3 L285.7,1603.6 L290.8,1603.6 L293.3,1603.9 L295.8,1607.3 L297.2,1609.8 L298.5,1612.5 L299.8,1615.1 L303.4,1614.1 L306.9,1614.4 L309.9,1614.7 L313.0,1613.3 L316.0,1611.8 L319.0,1610.8 L320.4,1613.8 L321.7,1616.5 L323.0,1619.2 L325.7,1619.9 L328.4,1620.2 L331.1,1620.1 L333.8,1620.4 L336.5,1621.0 L339.2,1620.8 L341.9,1619.9 L344.6,1620.7 L347.3,1619.6 L349.9,1620.1 L352.6,1620.4 L355.3,1619.7 L358.0,1618.8 L360.7,1619.6 L363.4,1620.8 L366.1,1620.7 L368.8,1623.7 L371.5,1622.8 L374.1,1623.9 L376.8,1621.2 L379.5,1622.5 L382.2,1622.1 L384.9,1620.3 L387.6,1619.4 L390.3,1618.7 L393.0,1617.3 L395.7,1613.7 L398.7,1612.2 L401.7,1609.4 L405.7,1607.9 L407.8,1609.5 L409.8,1612.6 L412.8,1614.5 L415.8,1614.5 L417.9,1616.5 L419.9,1618.4 L421.9,1622.7 L424.9,1619.9 L427.9,1618.5 L431.0,1619.0 L434.0,1618.5 L437.0,1617.1 L440.0,1615.2 L443.1,1613.2 L446.1,1611.4 L449.1,1611.6 L452.1,1613.6 L454.8,1612.4 L457.5,1611.5 L460.2,1609.7 L463.2,1609.1 L466.3,1607.1 L467.9,1605.1 L469.6,1603.7 L471.3,1601.1 L472.3,1598.0 L473.3,1595.0 L474.3,1592.0 L475.3,1588.9 L475.6,1586.1 L475.9,1583.3 L476.2,1580.5 L476.5,1577.6 L476.8,1574.8 L477.1,1572.0 L477.4,1569.2 L477.7,1566.3 L478.0,1563.5 L478.3,1560.7 L478.4,1558.0 L478.6,1555.3 L478.7,1552.6 L478.8,1549.8 L479.0,1547.1 L479.1,1544.4 L479.2,1541.7 L479.4,1539.0 L481.4,1538.3 L481.5,1541.7 L481.6,1544.4 L481.8,1547.1 L481.9,1549.8 L482.0,1552.6 L482.1,1555.3 L482.3,1558.0 L482.4,1560.7 L482.5,1563.5 L482.5,1566.3 L482.6,1569.2 L482.6,1572.0 L482.7,1574.8 L482.7,1577.6 L482.8,1580.5 L482.8,1583.3 L482.9,1586.1 L482.9,1588.9 L483.8,1591.7 L484.7,1594.6 L485.6,1597.4 L486.5,1600.2 L487.4,1603.0 L489.1,1607.0 L490.8,1607.5 L492.5,1611.1 L495.5,1613.0 L498.5,1614.5 L501.6,1617.4 L504.6,1619.3 L507.3,1620.8 L510.0,1620.9 L512.7,1620.9 L515.7,1622.9 L518.7,1624.9 L521.7,1623.6 L524.8,1622.7 L527.8,1620.2 L530.8,1621.5 L531.3,1618.5 L531.8,1615.8 L532.3,1613.1 L532.8,1610.4 L533.3,1607.8 L533.8,1605.1 L534.3,1602.2 L534.7,1599.3 L535.1,1596.4 L535.6,1593.5 L536.0,1590.7 L536.4,1587.8 L536.9,1584.9 L539.7,1582.0 L542.5,1580.4 L542.6,1577.5 L542.8,1574.1 L542.9,1570.8 L543.9,1569.0 L545.9,1568.8 L546.2,1572.2 L546.4,1575.1 L546.7,1578.0 L546.9,1580.9 L547.0,1583.5 L547.0,1586.2 L547.0,1588.9 L547.0,1591.6 L547.0,1594.3 L547.0,1597.0 L547.0,1599.7 L547.0,1602.4 L547.0,1605.1 L547.7,1607.8 L548.3,1610.4 L549.0,1613.1 L549.7,1615.8 L550.3,1618.5 L551.0,1621.2 L551.5,1618.5 L552.0,1615.8 L552.5,1613.1 L553.0,1610.4 L553.5,1607.8 L554.0,1605.1 L555.0,1600.5 L557.0,1599.9 L557.3,1603.4 L557.6,1606.4 L557.8,1609.3 L558.1,1612.2 L558.4,1615.1 L560.7,1616.3 L563.1,1618.8 L565.8,1619.4 L568.5,1622.1 L571.2,1621.6 L573.8,1620.3 L576.5,1618.9 L579.2,1619.2 L581.9,1617.7 L584.6,1617.9 L587.3,1616.8 L589.8,1618.3 L592.3,1621.2 L594.2,1626.0"/>
<path class="curve" stroke-width="5.3" d="M604.3,1610.0 L605.9,1612.6 L607.4,1615.1 L609.8,1617.6 L612.1,1617.4 L614.5,1619.6 L617.5,1620.0 L620.5,1617.9 L623.2,1620.7 L625.9,1621.0 L628.6,1622.7 L630.3,1620.7 L631.9,1619.9 L633.6,1616.6 L635.1,1613.6 L636.7,1610.1 L638.0,1612.5 L639.3,1614.8 L640.7,1617.2 L643.4,1619.3 L646.1,1620.1 L648.8,1621.7 L651.8,1621.5 L654.8,1621.0 L657.8,1619.6 L660.9,1618.7 L661.5,1615.6 L662.1,1612.9 L662.7,1610.3 L663.3,1607.7 L663.9,1605.1 L665.4,1602.0 L666.9,1599.0 L668.3,1602.0 L669.6,1605.1 L670.9,1608.1 L673.0,1607.7 L675.0,1603.9 L677.0,1603.8 L679.0,1601.0 L681.0,1599.7 L683.0,1596.5 L685.6,1595.1 L688.1,1593.6 L689.8,1597.3 L691.5,1599.5 L693.1,1600.2 L695.8,1599.2 L698.5,1601.7 L701.2,1601.4"/>
<path class="curve" stroke-width="5.1" d="M701.2,1601.4 L703.9,1602.5 L706.6,1603.1 L709.3,1602.8 L712.3,1602.2 L715.3,1600.9 L715.6,1598.3 L715.9,1595.5 L716.1,1592.8 L716.4,1590.0 L716.7,1587.3 L716.9,1584.5 L717.2,1581.8 L717.5,1579.0 L717.7,1576.3 L718.0,1573.5 L718.3,1570.8 L718.3,1568.0 L718.3,1565.3 L718.3,1562.5 L718.3,1559.8 L718.3,1557.0 L718.3,1554.3 L718.3,1551.5 L718.3,1548.8 L718.3,1546.0 L718.3,1543.3 L718.3,1540.5 L718.7,1537.3 L719.0,1534.1 L719.4,1530.9 L721.4,1531.0 L721.5,1533.7 L721.7,1536.5 L721.8,1539.4 L721.9,1542.2 L722.1,1545.0 L722.2,1547.8 L722.4,1550.6 L722.4,1553.4 L722.4,1556.1 L722.4,1558.9 L722.4,1561.6 L722.4,1564.4 L722.4,1567.1 L722.4,1569.9 L722.4,1572.6 L722.4,1575.4 L722.5,1578.1 L722.5,1580.9 L722.9,1583.7 L723.3,1586.5 L723.6,1589.3 L724.0,1592.2 L724.4,1595.0 L724.8,1597.8 L725.2,1600.6 L725.6,1603.4 L726.0,1606.3 L726.4,1609.1 L729.9,1608.1 L733.5,1607.5 L736.5,1609.0 L739.5,1610.6 L742.2,1608.8 L744.9,1607.7 L747.6,1606.8 L748.1,1603.2 L748.6,1600.4 L749.1,1597.5 L749.6,1594.6 L750.1,1591.8 L750.6,1588.9 L752.1,1586.4 L753.6,1583.9 L755.3,1587.4 L757.0,1590.6 L758.7,1592.2 L760.4,1588.8 L762.1,1587.7 L763.7,1585.6 L765.1,1588.3 L766.4,1590.6 L767.8,1593.0 L768.5,1596.0 L769.3,1599.0 L770.0,1602.0 L770.8,1605.1 L772.5,1606.4 L774.2,1608.0 L775.8,1610.5 L776.4,1608.4 L776.9,1605.6 L777.5,1602.9 L778.0,1600.1 L778.5,1597.4 L779.1,1594.6 L779.6,1591.9 L780.2,1589.1 L780.7,1586.4 L781.3,1583.6 L781.8,1580.9 L781.8,1578.2 L781.8,1575.5 L781.8,1572.8 L781.8,1570.1 L781.8,1567.4 L781.8,1564.7 L781.8,1562.0 L781.8,1559.3 L781.8,1556.7 L781.8,1554.0 L781.8,1551.3 L781.8,1548.6 L781.8,1545.9 L781.8,1543.2 L781.8,1540.5 L781.9,1537.7 L782.0,1535.0 L782.1,1532.2 L782.2,1529.4 L782.4,1526.6 L782.5,1523.9 L782.6,1521.1 L782.7,1518.3 L782.8,1515.5 L782.9,1512.8 L784.9,1512.7 L785.0,1515.5 L785.1,1518.3 L785.2,1521.1 L785.3,1523.9 L785.4,1526.6 L785.5,1529.4 L785.6,1532.2 L785.7,1535.0 L785.8,1537.7 L785.9,1540.5 L785.9,1543.3 L785.9,1546.0 L785.9,1548.8 L786.0,1551.5 L786.0,1554.3 L786.0,1557.0 L786.0,1559.8 L786.0,1562.5 L786.0,1565.3 L786.0,1568.0 L786.0,1570.8 L786.5,1573.5 L787.1,1576.3 L787.6,1579.0 L788.2,1581.8 L788.7,1584.5 L789.3,1587.3 L789.8,1590.0 L790.3,1592.8 L790.9,1595.5 L791.4,1598.3 L792.0,1601.0 L793.3,1604.1 L794.7,1607.1 L796.0,1610.1 L798.0,1612.6 L800.0,1614.6 L802.1,1615.9 L804.7,1615.1 L807.4,1613.0 L810.1,1613.7 L812.6,1610.8 L815.2,1610.7 L816.5,1613.1 L817.9,1616.2 L819.2,1619.2 L821.7,1619.7 L824.2,1621.5 L826.9,1620.4 L829.6,1620.1 L832.3,1619.7 L835.3,1618.6 L838.4,1616.5 L841.4,1618.6 L844.4,1619.0 L845.0,1616.6 L845.6,1614.0 L846.1,1611.4 L846.7,1608.8 L847.3,1606.2 L847.9,1603.6 L848.5,1601.0 L848.6,1598.3 L848.8,1595.6 L849.0,1593.0 L849.2,1590.3 L849.4,1587.6 L849.6,1584.9 L849.8,1582.2 L850.0,1579.5 L850.2,1576.8 L850.4,1574.1 L850.6,1571.4 L850.8,1568.8 L851.0,1566.1 L851.2,1563.4 L851.4,1560.7 L851.6,1557.9 L851.7,1555.1 L851.9,1552.3 L852.0,1549.4 L852.2,1546.6 L852.3,1543.8 L852.5,1541.0 L854.5,1541.7 L854.7,1543.8 L854.8,1546.6 L855.0,1549.4 L855.1,1552.3 L855.3,1555.1 L855.4,1557.9 L855.6,1560.7 L855.6,1563.4 L855.6,1566.2 L855.6,1568.9 L855.6,1571.7 L855.6,1574.4 L855.6,1577.2 L855.6,1579.9 L855.6,1582.7 L855.6,1585.4 L855.6,1588.2 L855.6,1590.9 L856.3,1593.6 L856.9,1596.3 L857.6,1599.0 L858.2,1601.7 L858.9,1604.4 L859.6,1607.1 L860.2,1609.8 L860.9,1612.5 L861.6,1615.1 L864.1,1616.5 L866.6,1618.8 L869.6,1619.4 L872.7,1617.0 L873.4,1614.1 L874.1,1611.1 L874.9,1608.1 L875.6,1605.1 L876.2,1601.3 L876.7,1597.5 L878.7,1596.9 L878.9,1600.2 L879.1,1602.9 L879.4,1605.7 L879.6,1608.4 L879.8,1611.1 L881.0,1613.6 L882.3,1616.2 L883.5,1618.7 L884.8,1621.2 L887.4,1621.4 L890.1,1621.1 L892.8,1619.2 L895.9,1617.2 L898.9,1617.7 L899.2,1614.6 L899.5,1612.0 L899.7,1609.4 L900.0,1606.8 L900.3,1604.2 L900.6,1601.6 L900.9,1599.0 L901.4,1595.7 L901.9,1592.5 L903.9,1592.2 L904.2,1595.6 L904.5,1598.8 L904.7,1601.9 L905.0,1605.1 L906.0,1607.6 L907.0,1610.1 L908.0,1612.6 L909.0,1615.1 L912.0,1616.4 L915.0,1618.5 L918.0,1619.3 L921.1,1616.8 L921.6,1614.5 L922.1,1611.8 L922.6,1609.1 L923.0,1606.4 L923.5,1603.7 L924.0,1601.0 L926.1,1596.9 L928.1,1594.8 L928.5,1592.3 L928.9,1589.6 L929.4,1586.9 L929.8,1584.2 L930.3,1581.5 L930.7,1578.8 L931.1,1576.2 L931.6,1573.5 L932.0,1570.8 L932.2,1568.1 L932.3,1565.3 L932.4,1562.6 L932.6,1559.9 L932.7,1557.2 L932.8,1554.5 L933.0,1551.8 L933.1,1549.1 L935.1,1549.4 L935.4,1552.0 L935.7,1554.9 L935.9,1557.8 L936.2,1560.7 L936.2,1563.4 L936.2,1566.1 L936.2,1568.8 L936.2,1571.4 L936.2,1574.1 L936.2,1576.8 L936.2,1579.5 L936.2,1582.2 L936.2,1584.9 L936.9,1587.8 L937.6,1590.7 L938.3,1593.5 L939.1,1596.4 L939.8,1599.3 L940.5,1602.2 L941.2,1605.1 L943.2,1608.6 L945.2,1608.7 L945.9,1606.4 L946.7,1603.7 L947.4,1601.0 L948.1,1598.3 L948.9,1595.6 L949.6,1593.0 L949.6,1590.3 L949.7,1587.6 L949.7,1584.9 L949.8,1582.2 L949.8,1579.5 L949.9,1576.8 L949.9,1574.1 L950.0,1571.4 L950.0,1568.8 L950.1,1566.1 L950.1,1563.4 L950.2,1560.7 L950.3,1557.8 L950.4,1555.0 L950.6,1552.2 L950.7,1549.3 L950.9,1546.5 L951.0,1543.7 L951.1,1540.8 L951.3,1538.0 L953.3,1538.2 L953.6,1540.8 L954.0,1543.7 L954.4,1546.6 L954.4,1549.3 L954.4,1551.9 L954.4,1554.6 L954.4,1557.3 L954.4,1560.0 L954.4,1562.7 L954.4,1565.4 L954.4,1568.1 L954.4,1570.8 L954.8,1573.5 L955.3,1576.3 L955.7,1579.0 L956.2,1581.8 L956.6,1584.5 L957.1,1587.3 L957.5,1590.0 L958.0,1592.8 L958.4,1595.5 L958.9,1598.3 L959.3,1601.0 L959.8,1603.6 L960.2,1606.2 L960.6,1608.8 L961.1,1611.4 L961.5,1614.0 L961.9,1616.6 L962.4,1619.2 L965.4,1619.0 L968.4,1620.7 L971.4,1621.7 L974.5,1623.5 L976.1,1622.2 L977.8,1619.3 L979.5,1617.1 L981.5,1612.7 L983.5,1610.6 L984.9,1613.8 L986.2,1616.5 L987.6,1619.2 L991.1,1621.3 L994.6,1622.6 L997.3,1623.5 L1000.0,1622.9"/>
<path class="curve" stroke-width="4.8" d="M1000.0,1622.9 L1002.7,1625.6 L1005.7,1624.3 L1008.8,1621.7 L1010.4,1619.9 L1012.1,1617.7 L1013.8,1614.9 L1016.3,1616.8 L1018.8,1618.7 L1020.9,1617.6 L1022.9,1614.9 L1024.9,1617.8 L1026.9,1617.7 L1028.9,1619.8 L1034.0,1620.6 L1035.6,1623.2 L1037.3,1627.4 L1039.0,1629.8 L1041.7,1630.5 L1044.4,1627.9 L1047.1,1629.5 L1050.1,1627.9 L1053.1,1626.0 L1055.8,1628.2 L1058.5,1628.1 L1061.2,1628.0 L1063.9,1629.6 L1066.6,1628.8 L1069.3,1629.2 L1072.0,1629.9 L1074.6,1630.5 L1077.3,1630.6 L1080.0,1631.6 L1082.7,1629.3 L1085.4,1629.2 L1088.1,1627.3 L1090.8,1627.5 L1093.5,1625.6 L1097.5,1626.5 L1098.2,1624.2 L1099.0,1621.2 L1099.7,1618.2 L1100.5,1615.1 L1101.0,1611.9 L1101.6,1608.6 L1103.6,1608.2 L1103.9,1611.4 L1104.3,1614.3 L1104.7,1617.2 L1106.6,1621.3 L1108.6,1623.5 L1109.6,1620.2 L1110.6,1617.2 L1111.6,1614.1 L1112.6,1611.1 L1113.1,1608.4 L1113.6,1605.7 L1114.1,1603.0 L1114.6,1600.4 L1115.1,1597.7 L1115.6,1595.0 L1116.1,1592.2 L1116.7,1589.4 L1118.7,1589.8 L1119.0,1592.3 L1119.2,1595.2 L1119.5,1598.1 L1119.8,1601.0 L1119.8,1603.7 L1119.8,1606.4 L1119.8,1609.1 L1119.8,1611.8 L1119.8,1614.5 L1119.8,1617.2 L1121.3,1619.9 L1122.8,1622.7 L1124.3,1625.5 L1125.7,1628.3 L1127.8,1625.4 L1129.8,1624.8 L1131.8,1623.6 L1134.5,1623.3 L1137.2,1621.7 L1139.9,1620.6 L1142.6,1619.5 L1145.2,1619.9 L1147.9,1617.8 L1151.0,1615.5 L1154.0,1612.9 L1156.0,1611.4 L1158.0,1609.3 L1160.0,1607.0 L1164.1,1605.6 L1164.9,1607.9 L1165.7,1610.7 L1166.5,1613.5 L1167.3,1616.4 L1168.1,1619.2 L1169.5,1616.5 L1170.8,1613.8 L1172.1,1611.1 L1172.7,1608.3 L1173.4,1605.5 L1174.0,1602.6 L1174.6,1599.8 L1175.2,1597.0 L1177.7,1594.7 L1180.2,1591.3 L1181.9,1595.0 L1183.6,1597.3 L1185.3,1598.4 L1187.8,1601.1 L1190.3,1603.8 L1191.3,1605.5 L1192.3,1607.9 L1193.3,1610.3 L1194.3,1612.7 L1195.3,1615.1 L1197.9,1617.6 L1200.4,1619.4 L1202.1,1621.1 L1203.7,1623.0 L1205.4,1626.0 L1207.8,1623.2 L1210.1,1622.4 L1212.5,1620.6 L1215.5,1622.3 L1218.5,1623.5 L1220.6,1622.1 L1222.6,1621.3 L1224.6,1617.8 L1226.6,1619.8 L1228.6,1623.0 L1230.1,1625.0 L1231.6,1629.0 L1233.2,1629.2 L1234.7,1632.3 L1237.4,1633.5 L1240.1,1631.3 L1242.7,1631.2 L1246.8,1629.1 L1248.0,1626.4 L1249.2,1623.6 L1250.4,1620.8 L1251.6,1618.0 L1252.7,1615.1 L1253.3,1611.4 L1253.8,1607.6 L1255.8,1607.3 L1256.1,1610.5 L1256.4,1613.4 L1256.7,1616.3 L1256.9,1619.2 L1258.9,1620.7 L1260.9,1624.2 L1262.9,1624.5 L1264.9,1621.9 L1266.9,1621.7 L1271.0,1618.5 L1272.3,1620.5 L1273.7,1622.9 L1275.0,1625.2 L1277.0,1626.7 L1279.1,1628.5 L1281.1,1630.2 L1283.8,1630.6 L1286.4,1632.1 L1289.1,1633.1 L1292.2,1633.2 L1295.2,1632.0 L1298.2,1632.4 L1301.2,1630.3"/>
<path class="curve" stroke-width="4.5" d="M1301.2,1630.3 L1304.2,1632.0 L1306.9,1630.5 L1309.6,1632.5 L1312.3,1633.1 L1315.0,1631.9 L1317.7,1634.1 L1320.3,1632.2 L1323.0,1630.7 L1325.7,1630.4 L1328.4,1629.8 L1331.1,1630.7 L1333.8,1632.4 L1336.5,1632.0 L1339.2,1629.8 L1341.9,1630.6 L1344.5,1629.4 L1347.6,1629.6 L1350.6,1627.7 L1353.6,1624.9 L1356.7,1623.7 L1358.7,1627.5 L1360.7,1626.9 L1362.7,1629.6 L1365.4,1630.5 L1368.1,1629.6 L1370.8,1630.8 L1373.5,1632.3 L1376.2,1629.7 L1378.8,1630.7 L1381.5,1632.3 L1384.2,1632.2 L1386.9,1633.2 L1389.6,1631.8 L1392.3,1631.4 L1395.0,1631.3 L1397.0,1628.8 L1399.0,1626.0 L1401.0,1623.0 L1404.1,1624.9 L1407.1,1624.2 L1409.8,1625.5 L1412.5,1627.5 L1415.1,1629.8 L1417.8,1630.6 L1420.5,1632.0 L1423.2,1632.8 L1425.9,1632.9 L1428.6,1635.0 L1431.3,1634.7 L1434.0,1635.6 L1436.7,1635.9 L1439.4,1636.2 L1442.0,1634.3 L1444.7,1635.2 L1447.4,1633.1 L1450.1,1632.3 L1452.8,1630.8 L1455.5,1631.8 L1458.5,1633.4 L1461.5,1632.8 L1463.6,1630.3 L1465.6,1627.3 L1467.6,1624.8 L1469.6,1628.7 L1471.6,1630.5 L1474.7,1630.5 L1477.7,1628.5 L1480.7,1626.7 L1483.7,1626.7 L1486.8,1626.6 L1489.8,1629.4 L1492.5,1630.3 L1495.2,1630.0 L1497.9,1632.0 L1500.5,1632.7 L1503.2,1631.8 L1505.9,1632.7 L1508.6,1634.7 L1511.3,1636.7 L1514.0,1636.5 L1516.7,1637.1 L1519.4,1634.9 L1522.1,1633.7 L1525.4,1633.3 L1528.8,1634.2 L1532.1,1634.9 L1535.5,1634.6 L1538.9,1634.4 L1542.2,1632.4 L1545.6,1632.4 L1549.0,1631.1 L1552.3,1629.8 L1555.7,1630.1 L1559.0,1628.9 L1562.4,1629.7 L1565.8,1630.6 L1569.1,1629.1 L1572.5,1629.7 L1575.5,1630.7 L1578.5,1631.6 L1581.6,1633.4 L1584.6,1637.0 L1587.3,1637.3 L1590.0,1635.5 L1592.7,1635.9 L1595.7,1632.4 L1598.7,1632.0 L1600.2,1627.8 L1601.7,1624.2 L1604.8,1624.4 L1607.8,1624.6 L1610.8,1623.9 L1612.2,1626.6 L1613.5,1628.9 L1614.8,1631.3 L1617.5,1630.1 L1620.2,1632.1 L1622.9,1632.5 L1625.6,1633.2 L1628.3,1633.8 L1631.0,1633.9 L1633.7,1632.2 L1636.4,1634.5 L1639.1,1633.7 L1641.7,1636.0 L1644.4,1635.7 L1647.1,1635.6 L1650.1,1636.0 L1653.1,1637.4 L1656.1,1636.9 L1658.8,1638.3 L1661.5,1637.7 L1664.2,1638.6 L1666.9,1638.2 L1669.6,1637.0 L1672.3,1636.7 L1675.0,1636.3 L1677.7,1637.5 L1680.3,1639.5 L1683.0,1639.1 L1685.7,1638.8 L1688.4,1635.7 L1691.1,1638.2 L1693.8,1636.4 L1696.5,1637.1 L1699.2,1638.3 L1701.9,1639.5 L1704.5,1637.9 L1707.2,1637.0 L1709.9,1637.5 L1712.6,1635.8 L1715.3,1635.7 L1718.0,1636.0 L1720.7,1637.8"/>
</g>
<g id="peaks">
<rect x="602.8" y="46.5" width="5.8" height="3.5" fill="#000"/>
<rect x="601.4" y="49.5" width="8.6" height="114.0" fill="#000"/>
<rect x="600.2" y="163.0" width="9.8" height="69.5" fill="#000"/>
<rect x="600.2" y="232.0" width="11.8" height="19.5" fill="#000"/>
<rect x="602.2" y="251.0" width="6.8" height="156.5" fill="#4e4e4e"/>
<rect x="598.6" y="251.0" width="4.6" height="156.5" fill="#000"/>
<rect x="608.0" y="251.0" width="4.6" height="156.5" fill="#000"/>
<rect x="602.2" y="407.0" width="8.8" height="42.5" fill="#4e4e4e"/>
<rect x="598.6" y="407.0" width="4.6" height="42.5" fill="#000"/>
<rect x="610.0" y="407.0" width="4.6" height="42.5" fill="#000"/>
<rect x="598.6" y="449.0" width="4.6" height="39.0" fill="#000"/>
<rect x="610.0" y="449.0" width="4.6" height="39.0" fill="#000"/>
<rect x="598.6" y="487" width="4.6" height="8" fill="#000"/>
<rect x="601.7" y="541.0" width="4.7" height="16.5" fill="#000"/>
<rect x="601.0" y="557.0" width="8.8" height="101.5" fill="#000"/>
<rect x="598.4" y="658.0" width="11.4" height="90.5" fill="#000"/>
<rect x="598.4" y="748.0" width="14.0" height="89.5" fill="#000"/>
<rect x="603.0" y="748.0" width="4.8" height="89.5" fill="#262626"/>
<rect x="603.2" y="837.0" width="5.6" height="87.5" fill="#4e4e4e"/>
<rect x="599.6" y="837.0" width="4.6" height="87.5" fill="#000"/>
<rect x="607.8" y="837.0" width="4.6" height="87.5" fill="#000"/>
<rect x="600.6" y="924.0" width="8.2" height="23.5" fill="#4e4e4e"/>
<rect x="597.0" y="924.0" width="4.6" height="23.5" fill="#000"/>
<rect x="607.8" y="924.0" width="4.6" height="23.5" fill="#000"/>
<rect x="600.6" y="947.0" width="10.2" height="20.5" fill="#4e4e4e"/>
<rect x="597.0" y="947.0" width="4.6" height="20.5" fill="#000"/>
<rect x="609.8" y="947.0" width="4.6" height="20.5" fill="#000"/>
<rect x="597.0" y="967.0" width="4.6" height="21.0" fill="#000"/>
<rect x="609.8" y="967.0" width="4.6" height="21.0" fill="#000"/>
<rect x="597.0" y="987" width="4.6" height="10" fill="#000"/>
<rect x="596.3" y="1028.0" width="5.0" height="22.5" fill="#000"/>
<rect x="593.8" y="1050.0" width="7.5" height="23.5" fill="#000"/>
<rect x="593.8" y="1073.0" width="10.0" height="87.5" fill="#000"/>
<rect x="593.0" y="1160.0" width="11.6" height="346.5" fill="#000"/>
<rect x="596.2" y="1506.0" width="6.6" height="16.5" fill="#4e4e4e"/>
<rect x="591.8" y="1506.0" width="5.4" height="16.5" fill="#000"/>
<rect x="601.8" y="1506.0" width="5.4" height="16.5" fill="#000"/>
<rect x="591.8" y="1522.0" width="5.4" height="89.0" fill="#000"/>
<rect x="601.8" y="1522.0" width="5.4" height="89.0" fill="#000"/>
<rect x="591.8" y="1610" width="5.4" height="16" fill="#000"/>
</g>
<g class="axis">
<line x1="48.5" y1="1694.0" x2="1906.8" y2="1694.0"/>
<line x1="51.0" y1="1664.5" x2="51.0" y2="1694.0"/><line x1="236.3" y1="1679.0" x2="236.3" y2="1694.0"/><line x1="421.7" y1="1664.5" x2="421.7" y2="1694.0"/><line x1="607.0" y1="1679.0" x2="607.0" y2="1694.0"/><line x1="792.3" y1="1664.5" x2="792.3" y2="1694.0"/><line x1="977.6" y1="1679.0" x2="977.6" y2="1694.0"/><line x1="1163.0" y1="1664.5" x2="1163.0" y2="1694.0"/><line x1="1348.3" y1="1679.0" x2="1348.3" y2="1694.0"/><line x1="1533.6" y1="1664.5" x2="1533.6" y2="1694.0"/><line x1="1719.0" y1="1679.0" x2="1719.0" y2="1694.0"/><line x1="1904.3" y1="1664.5" x2="1904.3" y2="1694.0"/>
</g>
<g class="ticklab"><text transform="translate(50.0,1785) scale(0.975,1)" text-anchor="middle">0</text><text transform="translate(420.7,1785) scale(0.975,1)" text-anchor="middle">20</text><text transform="translate(791.3,1785) scale(0.975,1)" text-anchor="middle">40</text><text transform="translate(1162.0,1785) scale(0.975,1)" text-anchor="middle">60</text><text transform="translate(1532.6,1785) scale(0.975,1)" text-anchor="middle">80</text><text transform="translate(1903.3,1785) scale(0.975,1)" text-anchor="middle">100</text></g>
<text transform="translate(741.7,1928) scale(1.025,1)" x="0" y="0" style="font-family:'Liberation Sans',sans-serif;font-weight:bold;font-size:82px;fill:#000;">2-Theta/deg</text>
<text x="1334.3" y="1593.8" style="font-family:'Liberation Sans',sans-serif;font-size:68px;fill:#0a0a0a;">Raw material</text>
<text class="serif" transform="scale(0.96,1)" text-anchor="middle" font-size="78.5" y="454.4" x="1332.4 1376.7 1417.4 1458.1 1498.8 1539.4 1580.1 1620.8 1661.5 1702.1 1742.8 1783.5 1824.2 1860.2 1907.1 1946.2 1986.9 2027.6 2068.2 2108.9">Conventional Heating</text>
<text class="serif" transform="scale(0.96,1)" text-anchor="middle" font-size="77" y="953" x="1325.5 1375.6 1414.2 1454.8 1492.4 1536.7 1580.5 1617.6 1658.2 1698.9 1734.9 1781.8 1820.9 1861.6 1902.3 1943.0 1983.6">Microwave Heating</text>
<g class="num" font-size="80" text-anchor="middle">
<text transform="translate(266.9,379.8) scale(1.17,1)">1</text>
<text transform="translate(744.6,368.6) scale(1.08,1)">2</text>
<text transform="translate(800.2,369.2) scale(1.05,1)">3</text>
<text transform="translate(873.0,302.0) scale(1.15,1.035)">4</text>
</g>
</g>
</svg>
</body>
</html>
